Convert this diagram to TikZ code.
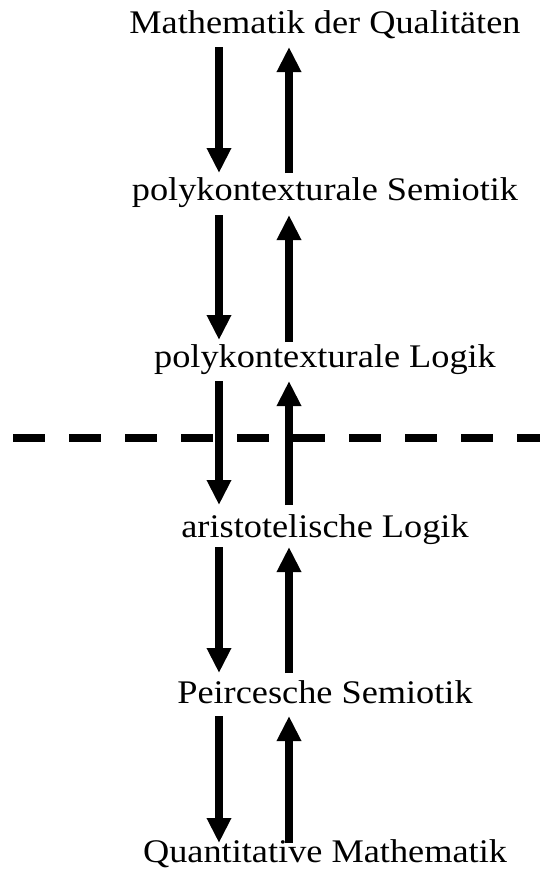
\documentclass[tikz,border=0pt]{standalone}
\usepackage{fontspec}
\setmainfont{Liberation Serif}[FakeStretch=1.1]
\usetikzlibrary{arrows.meta,calc}
\begin{document}
\begin{tikzpicture}[x=1pt,y=-1pt,
  lbl/.style={anchor=base,inner sep=0pt,font=\fontsize{33}{40}\selectfont},
  arr/.style={line width=8pt,-{Triangle[width=23pt,length=25pt]}},
  sep/.style={line width=8pt,dash pattern=on 32pt off 24pt}]
\useasboundingbox (0,0) rectangle (540,881);
\node[lbl] (t1) at (325,33) {Mathematik der Qualitäten};
\node[lbl] (t2) at (325,200) {polykontexturale Semiotik};
\node[lbl] (t3) at (325,367) {polykontexturale Logik};
\node[lbl] (t4) at (325,537) {aristotelische Logik};
\node[lbl] (t5) at (325,703) {Peircesche Semiotik};
\node[lbl] (t6) at (325,862) {Quantitative Mathematik};
% level 1
\draw[arr] ($(t1.base)+(-106,14)$) -- ($(t2.base)+(-106,-27)$);
\draw[arr] ($(t2.base)+(-36,-27)$) -- ($(t1.base)+(-36,14)$);
% level 2
\draw[arr] ($(t2.base)+(-106,15)$) -- ($(t3.base)+(-106,-27)$);
\draw[arr] ($(t3.base)+(-36,-25)$) -- ($(t2.base)+(-36,15)$);
% level 3
\draw[arr] ($(t3.base)+(-106,14)$) -- ($(t4.base)+(-106,-32)$);
\draw[arr] ($(t4.base)+(-36,-32)$) -- ($(t3.base)+(-36,14)$);
% level 4
\draw[arr] ($(t4.base)+(-106,10)$) -- ($(t5.base)+(-106,-30)$);
\draw[arr] ($(t5.base)+(-36,-30)$) -- ($(t4.base)+(-36,10)$);
% level 5
\draw[arr] ($(t5.base)+(-106,13)$) -- ($(t6.base)+(-106,-19)$);
\draw[arr] ($(t6.base)+(-36,-19)$) -- ($(t5.base)+(-36,13)$);
% separator
\coordinate (sepL) at (13,438);
\coordinate (sepR) at (545,438);
\draw[sep] (sepL) -- (sepR);
\end{tikzpicture}
\end{document}
